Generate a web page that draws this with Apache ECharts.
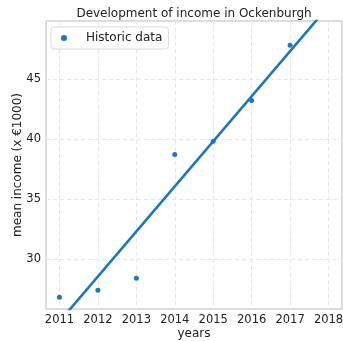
<!DOCTYPE html>
<html>
<head>
<meta charset="utf-8">
<script src="https://cdn.jsdelivr.net/npm/echarts@6/dist/echarts.min.js"></script>
<style>
  html, body { margin: 0; padding: 0; background: #fff; }
  #chart { width: 343px; height: 341px; }
</style>
</head>
<body>
<div id="chart"></div>
<script>
// Historic mean income per year (in thousands of euro)
const years = [2011, 2012, 2013, 2014, 2015, 2016, 2017];
const incomes = [26.8, 27.4, 28.4, 38.7, 39.8, 43.2, 47.8];

// Trend line end points
const trendYears = [2010.6, 2018.4];
const trendValues = [23.28, 52.57];

// Axis ticks
const xTicks = [2011, 2012, 2013, 2014, 2015, 2016, 2017, 2018];
const yTicks = [30, 35, 40, 45];

const blue = '#1f77b4';
const font = 'DejaVu Sans';

const chart = echarts.init(document.getElementById('chart'), null, { renderer: 'canvas' });

chart.setOption({
  animation: false,
  title: {
    text: 'Development of income in Ockenburgh',
    left: 189, top: 3, textAlign: 'center',
    textStyle: { fontFamily: font, fontSize: 12, fontWeight: 'normal', color: '#222' }
  },
  legend: {
    left: 51, top: 27,
    padding: [5, 6, 5, 10],
    backgroundColor: '#fff',
    borderColor: '#d9d9d9', borderWidth: 1, borderRadius: 3,
    itemWidth: 14, itemHeight: 6, itemGap: 8,
    itemStyle: { opacity: 1 },
    textStyle: { fontFamily: font, fontSize: 12, color: '#222', padding: [0, 0, 0, 10] },
    data: [{ name: 'Historic data', icon: 'circle' }]
  },
  grid: {
    left: 46, right: 1, top: 21, bottom: 32,
    outerBoundsMode: 'none', containLabel: false,
    show: true, borderColor: '#bbbbbb', borderWidth: 1
  },
  xAxis: {
    type: 'value', min: 2010.65, max: 2018.35,
    name: 'years', nameLocation: 'middle', nameGap: 19, nameMoveOverlap: false,
    nameTextStyle: { fontFamily: font, fontSize: 12, color: '#222' },
    axisLine: { show: false },
    axisTick: { show: false, customValues: xTicks },
    axisLabel: {
      customValues: xTicks, margin: 5,
      fontFamily: font, fontSize: 11.5, color: '#222',
      formatter: v => String(v)
    },
    splitLine: { show: true, lineStyle: { color: '#e6e6e6', type: [4, 3], width: 1 } }
  },
  yAxis: {
    type: 'value', min: 25.83, max: 49.83,
    name: 'mean income (x €1000)', nameLocation: 'middle', nameGap: 22, nameMoveOverlap: false,
    nameTextStyle: { fontFamily: font, fontSize: 12, color: '#222' },
    axisLine: { show: false },
    axisTick: { show: false, customValues: yTicks },
    axisLabel: {
      customValues: yTicks, margin: 5,
      fontFamily: font, fontSize: 11.5, color: '#222'
    },
    splitLine: { show: true, lineStyle: { color: '#e6e6e6', type: [4, 3], width: 1 } }
  },
  series: [
    {
      name: 'Trend',
      type: 'line',
      data: trendYears.map((y, i) => [y, trendValues[i]]),
      showSymbol: false,
      clip: true,
      lineStyle: { color: blue, width: 2.6 },
      z: 2
    },
    {
      name: 'Historic data',
      type: 'scatter',
      data: years.map((y, i) => [y, incomes[i]]),
      symbolSize: 5,
      itemStyle: { color: blue, opacity: 1 },
      z: 3
    }
  ]
});
</script>
</body>
</html>
